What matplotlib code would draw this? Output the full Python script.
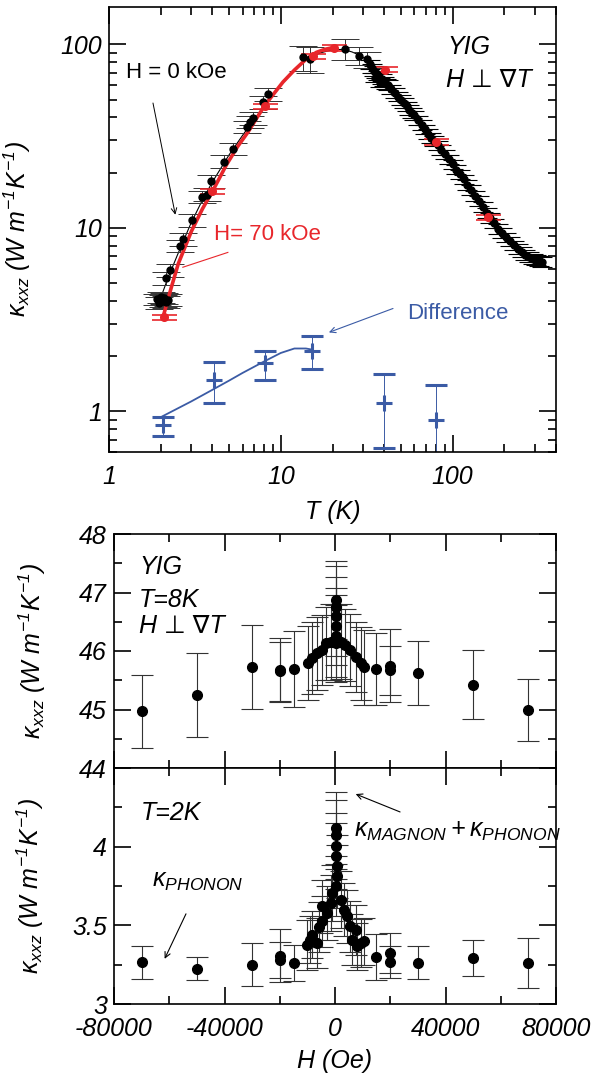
import matplotlib
matplotlib.use("Agg")
import matplotlib.pyplot as plt
import numpy as np

plt.rcParams['font.family'] = ['Liberation Sans', 'DejaVu Sans']
plt.rcParams['font.style'] = 'italic'
plt.rcParams['mathtext.fontset'] = 'custom'
plt.rcParams['mathtext.rm'] = 'Liberation Sans'
plt.rcParams['mathtext.it'] = 'Liberation Sans:italic'
plt.rcParams['axes.unicode_minus'] = False

# ---- top panel: kappa vs T ----
# H = 0 kOe, low-T points
T0 = [1.9, 1.95, 2.0, 2.05, 2.1, 2.15, 2.2, 2.16, 2.26, 2.59, 2.71, 3.05, 3.5, 3.7,
      3.95, 4.7, 5.25, 6.4, 6.6, 6.9, 7.9, 8.4, 13.5, 14.7, 23.6, 28.5, 31.7]
k0 = [4.1, 3.9, 4.2, 4.0, 4.15, 3.95, 4.05, 5.3, 5.9, 8.0, 8.7, 11.0, 14.8, 15.2,
      17.9, 23.0, 27.0, 35.6, 37.9, 39.5, 48.6, 53.5, 85, 83, 94.4, 86.9, 83]
e0 = [0.07, 0.07, 0.07, 0.07, 0.07, 0.07, 0.07, 0.08, 0.08, 0.08, 0.08, 0.08, 0.08, 0.08,
      0.08, 0.08, 0.08, 0.08, 0.08, 0.08, 0.08, 0.08, 0.16, 0.16, 0.13, 0.11, 0.1]
# H = 0 kOe, dense high-T data
Tb = [33, 34, 35, 35.5, 36, 37, 38, 39, 40, 41, 42, 44, 46, 48, 50, 52, 54, 56, 58, 60,
      63, 66, 69, 72, 75, 78, 82, 86, 90, 95, 100, 105, 110, 116, 122, 128, 135, 142,
      150, 158, 166, 175, 185, 195, 205, 216, 228, 240, 252, 265, 278, 292, 305, 318, 330]
kb = [78, 74, 72, 66, 70, 68, 62, 65, 63, 61, 60, 57, 54.5, 52, 50, 48, 46, 44, 42.5, 41,
      38.5, 36.5, 34.5, 32.5, 31, 29.8, 28.2, 26.6, 25.2, 23.6, 22.2, 20.8, 19.6, 18.4,
      17.2, 16.1, 15.0, 14.0, 13.0, 12.1, 11.3, 10.6, 9.9, 9.4, 8.9, 8.45, 8.05, 7.7,
      7.4, 7.15, 6.95, 6.8, 6.7, 6.6, 6.55]
# thin line through H = 0 data
Tf0 = [1.95, 2.2, 2.5, 3.0, 3.5, 4.0, 5.0, 6.0, 7.0, 8.0, 10, 12, 14, 17, 20, 23, 26, 29, 32, 35]
kf0 = [3.9, 5.3, 7.1, 10.6, 14.2, 17.8, 25, 32, 39, 46, 60, 72, 82, 90, 93.5, 94, 91, 87, 82, 76]
# H = 70 kOe
T70 = [2.1, 4.0, 8.1, 15.3, 20.5, 40.5, 80.5, 160]
k70 = [3.25, 15.8, 46.0, 86, 96, 73, 29.3, 11.4]
Tf70 = [2.07, 2.3, 2.53, 3.02, 3.5, 4.0, 4.83, 5.6, 6.46, 8.07, 10.3, 12, 14.1, 16.1, 18, 20]
kf70 = [3.3, 4.7, 6.37, 9.6, 12.7, 15.8, 22.1, 27.7, 33.4, 46.6, 62.4, 72.5, 83.4, 90.5, 94, 96]
# difference
Td = [2.07, 4.07, 8.05, 15.2, 40.0, 80.5]
kd = [0.843, 1.49, 1.83, 2.14, 1.11, 0.897]
kd_hi = [0.93, 1.85, 2.14, 2.58, 1.59, 1.39]
kd_lo = [0.735, 1.11, 1.49, 1.71, 0.63, 0.43]
Tfd = [2.05, 3, 4, 5, 6, 8, 10, 12, 14, 15.2]
kfd = [0.94, 1.13, 1.31, 1.47, 1.62, 1.87, 2.08, 2.2, 2.2, 2.17]

# ---- middle panel: T = 8 K ----
H8 = [-70000, -50000, -30000, -20000, -20000, -15000, -9800, -8200, -6400, -4600, -3400,
      -1600, 200, 200, 200, 200, 200, 200, 2000, 3800, 5600, 7500, 9300, 10500, 15000,
      20000, 20000, 30000, 50000, 70000]
k8 = [44.97, 45.25, 45.73, 45.68, 45.65, 45.69, 45.79, 45.88, 45.96, 46.02, 46.13, 46.16,
      46.13, 46.25, 46.42, 46.59, 46.76, 46.87, 46.16, 46.10, 46.02, 45.90, 45.79, 45.72,
      45.69, 45.75, 45.67, 45.62, 45.42, 44.99]
e8 = [0.62, 0.72, 0.72, 0.55, 0.50, 0.65, 0.63, 0.62, 0.62, 0.60, 0.62, 0.65, 0.66, 0.70,
      0.66, 0.68, 0.70, 0.66, 0.64, 0.62, 0.62, 0.60, 0.62, 0.64, 0.61, 0.63, 0.42, 0.55,
      0.59, 0.53]

# ---- bottom panel: T = 2 K ----
H2 = [-70000, -50000, -30000, -20000, -20000, -15000, -10000, -9100, -8200, -6400, -5800,
      -4600, -4600, -2800, -1600, -1000, 200, 800, 600, 200, 200, 200, 200, 2000, 3200,
      4500, 5600, 6300, 7500, 8100, 9300, 10500, 15000, 20000, 20000, 30000, 50000, 70000]
k2 = [3.265, 3.225, 3.25, 3.307, 3.282, 3.26, 3.377, 3.409, 3.44, 3.388, 3.49, 3.525, 3.62,
      3.579, 3.642, 3.706, 3.748, 3.811, 3.875, 3.938, 4.002, 4.076, 4.119, 3.663, 3.6,
      3.557, 3.493, 3.409, 3.472, 3.366, 3.388, 3.398, 3.299, 3.324, 3.267, 3.261, 3.292,
      3.261]
e2 = [0.103, 0.071, 0.135, 0.17, 0.115, 0.113, 0.16, 0.15, 0.15, 0.16, 0.16, 0.16, 0.17,
      0.17, 0.18, 0.18, 0.19, 0.2, 0.2, 0.21, 0.21, 0.22, 0.23, 0.18, 0.17, 0.17, 0.16,
      0.16, 0.16, 0.15, 0.15, 0.15, 0.146, 0.13, 0.1, 0.105, 0.117, 0.158]

red = '#e8262b'
blue = '#3b5ba5'
fs = 18
ylab = r'$\mathrm{\kappa}_{xxz}\ (W\ m^{-1}K^{-1})$'

fig = plt.figure(figsize=(6.06, 10.76), dpi=100)
ax1 = fig.add_axes([109/606, 1-452/1076, 447/606, 445/1076])
ax2 = fig.add_axes([114/606, 1-768/1076, 442/606, 234/1076])
ax3 = fig.add_axes([114/606, 1-1004/1076, 442/606, 236/1076])

# top panel
ax1.set_xscale('log')
ax1.set_yscale('log')
ax1.plot(Tf0, kf0, color='k', lw=0.8)
ax1.errorbar(Tb, kb, yerr=np.array(kb)*0.06, fmt='o', color='k', ms=5,
             elinewidth=0.8, capsize=7, capthick=0.8)
ax1.errorbar(T0, k0, yerr=np.array(k0)*np.array(e0), fmt='o', color='k', ms=5,
             ecolor='#333333', elinewidth=0.7, capsize=10, capthick=0.7)
ax1.plot(Tf70, kf70, color=red, lw=2.6)
ax1.errorbar(T70, k70, yerr=np.array(k70)*0.035, fmt='o',
             color=red, ms=5.5, elinewidth=1.0, capsize=9, capthick=1.2)
ax1.plot(Tfd, kfd, color=blue, lw=1.3)
ax1.errorbar(Td, kd, yerr=[np.array(kd)-np.array(kd_lo), np.array(kd_hi)-np.array(kd)],
             fmt='+', color=blue, ms=11, mew=2.2, elinewidth=0.7, capsize=8, capthick=0.7)

ax1.set_xlim(1, 400)
ax1.set_ylim(0.6, 160)
ax1.set_xticks([1, 10, 100], labels=['1', '10', '100'])
ax1.set_yticks([1, 10, 100], labels=['1', '10', '100'])
ax1.xaxis.set_minor_formatter(matplotlib.ticker.NullFormatter())
ax1.yaxis.set_minor_formatter(matplotlib.ticker.NullFormatter())
ax1.set_xlabel('T (K)', fontsize=fs, labelpad=8)
ax1.set_ylabel(ylab, fontsize=fs)
ax1.yaxis.set_label_coords(-0.17, 0.5)

ax1.text(1.25, 70, 'H = 0 kOe', fontsize=16, style='normal', va='center')
ax1.annotate('', xy=(2.45, 11.4), xytext=(1.79, 49.6),
             arrowprops=dict(arrowstyle='->', color='k', lw=0.7))
ax1.text(4.1, 9.25, 'H= 70 kOe', fontsize=16, style='normal', color=red, va='center')
ax1.plot([4.92, 2.69], [7.35, 6.1], color=red, lw=0.8)
ax1.text(54.6, 3.42, 'Difference', fontsize=16, style='normal', color=blue, va='center')
ax1.annotate('', xy=(18.4, 2.66), xytext=(46.6, 3.68),
             arrowprops=dict(arrowstyle='->', color=blue, lw=0.8))
ax1.text(0.758, 0.911, 'YIG', fontsize=fs, transform=ax1.transAxes, va='center')
ax1.text(0.755, 0.836, 'H \u22a5 \u2207T', fontsize=fs, transform=ax1.transAxes,
         va='center')

# middle panel
ax2.errorbar(H8, k8, yerr=e8, fmt='o', color='k', ms=7, ecolor='#333333',
             elinewidth=0.8, capsize=8, capthick=0.8)
ax2.set_xlim(-80000, 80000)
ax2.set_ylim(44, 48)
ax2.set_xticks([-80000, -40000, 0, 40000, 80000], labels=[])
ax2.set_xticks([-60000, -20000, 20000, 60000], minor=True)
ax2.set_yticks([44, 45, 46, 47, 48], labels=['44', '45', '46', '47', '48'])
ax2.set_yticks([44.5, 45.5, 46.5, 47.5], minor=True)
ax2.set_ylabel(ylab, fontsize=fs)
ax2.yaxis.set_label_coords(-0.149, 0.5)
ax2.text(0.057, 0.861, 'YIG', fontsize=fs, transform=ax2.transAxes, va='center')
ax2.text(0.057, 0.719, 'T=8K', fontsize=fs, transform=ax2.transAxes, va='center')
ax2.text(0.057, 0.605, 'H \u22a5 \u2207T', fontsize=fs, transform=ax2.transAxes,
         va='center')

# bottom panel
ax3.errorbar(H2, k2, yerr=e2, fmt='o', color='k', ms=7, ecolor='#333333',
             elinewidth=0.8, capsize=8, capthick=0.8)
ax3.set_xlim(-80000, 80000)
ax3.set_ylim(3, 4.5)
ax3.set_xticks([-80000, -40000, 0, 40000, 80000],
               labels=['-80000', '-40000', '0', '40000', '80000'])
ax3.set_xticks([-60000, -20000, 20000, 60000], minor=True)
ax3.set_yticks([3, 3.5, 4, 4.5], labels=['3', '3.5', '4', ''])
ax3.set_yticks([3.25, 3.75, 4.25], minor=True)
ax3.set_xlabel('H (Oe)', fontsize=fs, labelpad=6)
ax3.set_ylabel(ylab, fontsize=fs)
ax3.yaxis.set_label_coords(-0.154, 0.5)
ax3.text(0.061, 0.809, 'T=2K', fontsize=fs, transform=ax3.transAxes, va='center')
ax3.text(6990, 4.097, r'$\mathrm{\kappa}_{MAGNON} + \mathrm{\kappa}_{PHONON}$',
         fontsize=18, va='center')
ax3.annotate('', xy=(6560, 4.341), xytext=(24490, 4.214),
             arrowprops=dict(arrowstyle='->', color='k', lw=0.8))
ax3.text(-66080, 3.779, r'$\mathrm{\kappa}_{PHONON}$', fontsize=18, va='center')
ax3.annotate('', xy=(-62100, 3.271), xytext=(-53510, 3.589),
             arrowprops=dict(arrowstyle='->', color='k', lw=0.8))

for ax in (ax1, ax2, ax3):
    ax.tick_params(which='both', direction='in', top=True, right=True, width=1.2,
                   labelsize=fs)
    ax.tick_params(which='major', length=12)
    ax.tick_params(which='minor', length=6)
    ax.tick_params(axis='x', pad=9)
    ax.tick_params(axis='y', pad=5)
    for s in ax.spines.values():
        s.set_linewidth(1.2)

fig.savefig('out.png', dpi=100)
